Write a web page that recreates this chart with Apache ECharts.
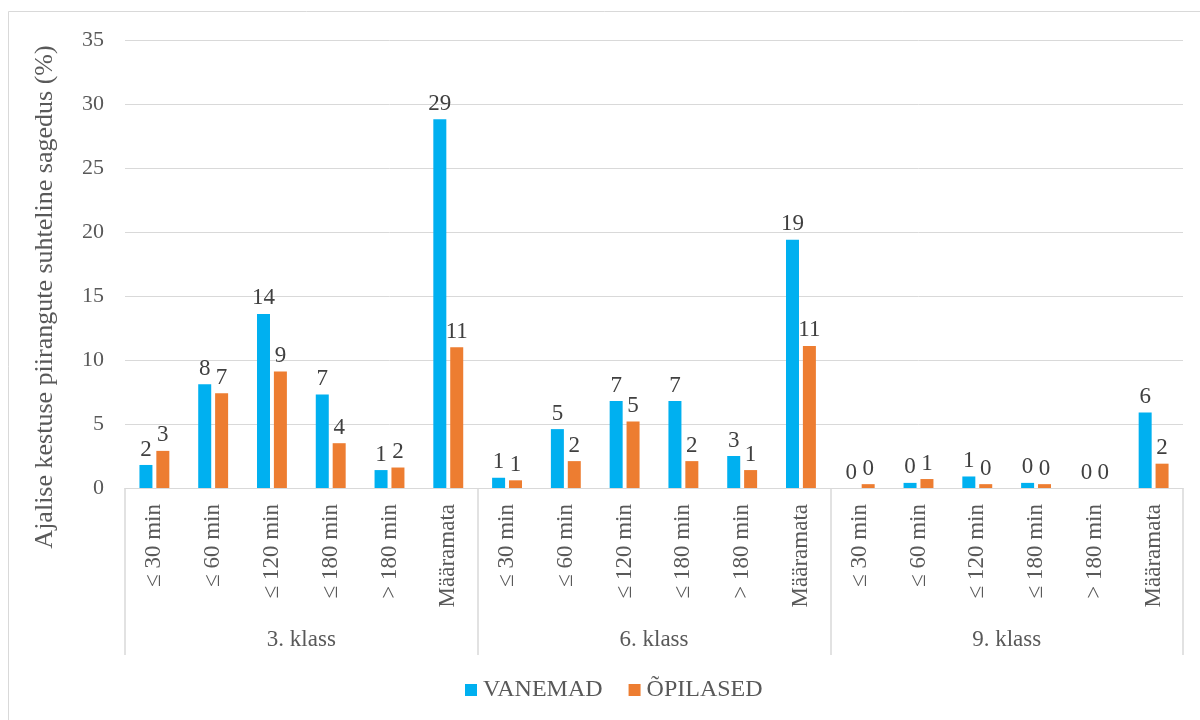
<!DOCTYPE html>
<html>
<head>
<meta charset="utf-8">
<script src="https://cdn.jsdelivr.net/npm/echarts@6/dist/echarts.min.js"></script>
<style>
html,body{margin:0;padding:0;background:#fff;}
#chart{width:1200px;height:720px;}
</style>
</head>
<body>
<div id="chart"></div>
<script>
const categories = ["≤ 30 min","≤ 60 min","≤ 120 min","≤ 180 min","> 180 min","Määramata",
                    "≤ 30 min","≤ 60 min","≤ 120 min","≤ 180 min","> 180 min","Määramata",
                    "≤ 30 min","≤ 60 min","≤ 120 min","≤ 180 min","> 180 min","Määramata"];
const groups = ["3. klass","6. klass","9. klass"];
const vanemad = [1.8, 8.1, 13.6, 7.3, 1.4, 28.8,
                 0.8, 4.6, 6.8, 6.8, 2.5, 19.4,
                 0.0, 0.4, 0.9, 0.4, 0.0, 5.9];
const opilased = [2.9, 7.4, 9.1, 3.5, 1.6, 11.0,
                  0.6, 2.1, 5.2, 2.1, 1.4, 11.1,
                  0.3, 0.7, 0.3, 0.3, 0.0, 1.9];
const yTicks = [0, 35, 5];
const yTitle = "Ajalise kestuse piirangute suhteline sagedus (%)";

const serif = '"Liberation Serif","DejaVu Serif",serif';
const chart = echarts.init(document.getElementById('chart'), null, {renderer:'canvas'});
const labelCfg = {
  show: true, position: 'top', distance: 4,
  fontFamily: serif, fontSize: 23, color: '#404040',
  formatter: p => Math.round(p.value)
};
chart.setOption({
  animation: false,
  backgroundColor: '#fff',
  graphic: [
    {type:'rect', shape:{x:8.5, y:11.5, width:1200, height:720}, style:{fill:'none', stroke:'#d9d9d9', lineWidth:1}, silent:true},
    {type:'text', x:45, y:297, rotation: Math.PI/2,
     style:{text: yTitle, fontFamily: serif, fontSize: 26, fill:'#595959', align:'center', verticalAlign:'middle'}}
  ],
  grid: {left:125, right:17, top:40, bottom:232},
  legend: {
    bottom: 13, left: 460, itemWidth: 12, itemHeight: 12, itemGap: 26,
    icon: 'rect',
    textStyle: {fontFamily: serif, fontSize: 24, color:'#595959', padding:[2,0,0,1]},
    data: ['VANEMAD','ÕPILASED']
  },
  xAxis: [
    {
      type:'category', data: categories, position:'bottom',
      axisLine:{show:true, lineStyle:{color:'#d9d9d9', width:1}},
      axisTick:{show:false},
      axisLabel:{interval:0, rotate:90, margin:16, fontFamily: serif, fontSize:23, color:'#595959'}
    },
    {
      type:'category', data: groups, position:'bottom', offset:0,
      axisLine:{show:false},
      axisTick:{show:true, length:167, interval:0, lineStyle:{color:'#d9d9d9', width:1.5}},
      axisLabel:{interval:0, margin:140, fontFamily: serif, fontSize:23, color:'#595959'}
    }
  ],
  yAxis: {
    type:'value', min: yTicks[0], max: yTicks[1], interval: yTicks[2],
    axisLine:{show:false}, axisTick:{show:false},
    axisLabel:{margin:21, fontFamily: serif, fontSize:22, color:'#595959'},
    splitLine:{lineStyle:{color:'#d9d9d9', width:1}}
  },
  series: [
    {name:'VANEMAD', type:'bar', data: vanemad, xAxisIndex:0, barWidth:13, barGap:'30%',
     itemStyle:{color:'#00B0F0'}, label: labelCfg},
    {name:'ÕPILASED', type:'bar', data: opilased, xAxisIndex:0, barWidth:13, barGap:'30%',
     itemStyle:{color:'#ED7D31'}, label: labelCfg}
  ]
});
</script>
</body>
</html>
